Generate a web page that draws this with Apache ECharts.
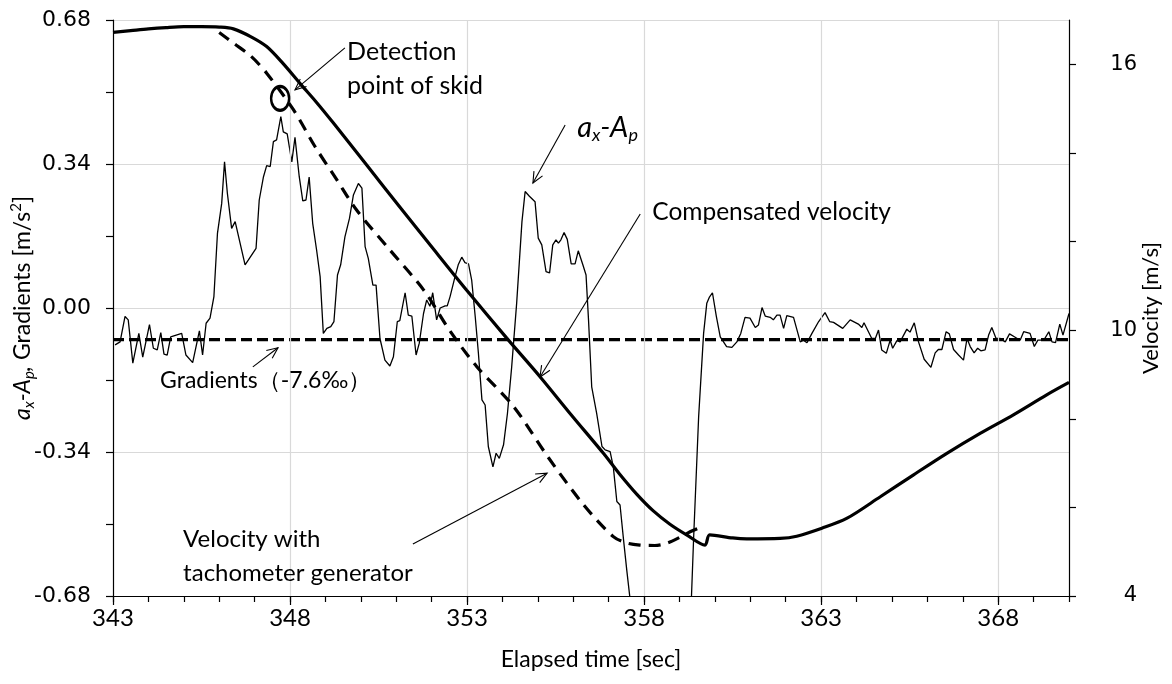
<!DOCTYPE html>
<html>
<head>
<meta charset="utf-8">
<script src="https://cdn.jsdelivr.net/npm/echarts@6/dist/echarts.min.js"></script>
<style>
  html, body { margin: 0; padding: 0; background: #fff; }
  #chart { width: 1172px; height: 684px; }
</style>
</head>
<body>
<div id="chart"></div>
<script>
// ---------- DATA ----------
const xTickLabels = [343, 348, 353, 358, 363, 368];
const xMinorTicks = [343,344,345,346,347,348,349,350,351,352,353,354,355,356,357,358,359,360,361,362,363,364,365,366,367,368,369,370];
const leftTickLabels = [-0.68, -0.34, 0, 0.34, 0.68];
const rightTickLabels = [4, 10, 16];
const rightTicks = [4, 6, 8, 10, 12, 14, 16];

// a_x - A_p (left axis, m/s^2)
const axApTime = [343.06,343.20,343.34,343.43,343.56,343.73,343.84,344.03,344.14,344.25,344.35,344.44,344.53,344.63,344.94,345.06,345.25,345.44,345.53,345.63,345.74,345.85,345.95,346.07,346.15,346.23,346.35,346.45,346.73,346.82,347.04,347.13,347.25,347.34,347.44,347.53,347.62,347.74,347.81,347.92,348.05,348.14,348.26,348.36,348.45,348.54,348.64,348.75,348.85,348.94,349.04,349.15,349.24,349.34,349.43,349.55,349.68,349.79,349.93,350.03,350.12,350.21,350.34,350.43,350.54,350.68,350.82,350.92,351.03,351.10,351.25,351.34,351.44,351.56,351.65,351.77,351.86,351.95,352.03,352.14,352.24,352.38,352.44,352.52,352.66,352.75,352.85,352.94,353.04,353.13,353.23,353.32,353.42,353.51,353.60,353.73,353.82,353.91,354.03,354.14,354.26,354.40,354.55,354.64,354.76,354.92,355.01,355.11,355.23,355.33,355.42,355.51,355.58,355.65,355.74,355.83,355.94,356.05,356.14,356.27,356.36,356.43,356.52,356.66,356.81,356.90,357.04,357.13,357.23,357.32,357.42,357.51,357.60,357.80,358.10,358.50,358.90,359.25,359.40,359.54,359.68,359.77,359.84,359.93,360.04,360.15,360.33,360.48,360.62,360.73,360.85,360.99,361.14,361.23,361.33,361.42,361.56,361.65,361.75,361.84,361.94,362.03,362.22,362.41,362.50,362.60,362.74,362.93,363.11,363.24,363.35,363.61,363.82,364.05,364.15,364.21,364.43,364.53,364.62,364.71,364.84,364.95,365.02,365.14,365.23,365.42,365.51,365.63,365.75,365.91,366.10,366.22,366.31,366.41,366.53,366.62,366.74,366.88,367.02,367.12,367.21,367.32,367.42,367.51,367.63,367.73,367.82,367.94,368.06,368.20,368.32,368.48,368.62,368.72,368.90,369.02,369.12,369.29,369.43,369.52,369.62,369.74,369.83,370.00];
const axApValue = [-0.087,-0.080,-0.020,-0.028,-0.130,-0.060,-0.116,-0.039,-0.095,-0.099,-0.058,-0.109,-0.111,-0.068,-0.060,-0.111,-0.129,-0.054,-0.111,-0.036,-0.024,0.027,0.176,0.247,0.345,0.271,0.188,0.204,0.102,0.113,0.141,0.255,0.310,0.336,0.334,0.393,0.397,0.452,0.416,0.411,0.345,0.403,0.310,0.253,0.255,0.309,0.200,0.137,0.074,-0.060,-0.048,-0.044,-0.032,0.078,0.102,0.168,0.212,0.267,0.294,0.283,0.145,0.117,0.054,0.054,-0.072,-0.123,-0.137,-0.115,-0.032,-0.030,0.036,-0.017,-0.019,-0.111,-0.083,-0.013,0.019,0.004,0.036,-0.028,0.000,0.005,0.005,0.027,0.074,0.102,0.120,0.107,0.104,0.066,-0.020,-0.107,-0.217,-0.229,-0.327,-0.375,-0.343,-0.355,-0.323,-0.249,-0.139,0.011,0.204,0.275,0.264,0.251,0.165,0.149,0.086,0.083,0.149,0.161,0.153,0.161,0.178,0.162,0.104,0.104,0.135,0.102,0.078,-0.028,-0.186,-0.249,-0.327,-0.335,-0.339,-0.375,-0.457,-0.465,-0.548,-0.619,-0.685,-0.85,-1.10,-1.25,-1.15,-0.88,-0.54,-0.257,-0.060,0.011,0.025,0.036,-0.020,-0.068,-0.091,-0.093,-0.080,-0.060,-0.022,-0.024,-0.046,-0.040,0.001,-0.019,-0.022,-0.028,-0.017,-0.017,-0.048,-0.018,-0.022,-0.080,-0.076,-0.082,-0.060,-0.032,-0.011,-0.032,-0.034,-0.048,-0.028,-0.038,-0.046,-0.035,-0.072,-0.072,-0.052,-0.099,-0.107,-0.076,-0.095,-0.077,-0.080,-0.050,-0.057,-0.035,-0.080,-0.121,-0.140,-0.106,-0.098,-0.098,-0.056,-0.061,-0.098,-0.111,-0.123,-0.072,-0.091,-0.106,-0.095,-0.101,-0.099,-0.064,-0.046,-0.072,-0.072,-0.080,-0.061,-0.069,-0.076,-0.056,-0.060,-0.091,-0.076,-0.076,-0.056,-0.080,-0.082,-0.038,-0.064,-0.013];

// Gradient (-7.6 permil) expressed in m/s^2
const gradientTime = [343, 370];
const gradientValue = [-0.0745, -0.0745];

// Compensated velocity (right axis, m/s)
const compTime = [343.0,343.5,344.0,344.5,345.0,345.5,346.0,346.4,346.9,347.34,347.8,348.28,348.75,349.22,350.17,351.1,352.05,352.99,354.12,355.06,355.95,356.85,357.3,357.79,358.26,358.73,359.2,359.72,359.85,360.5,360.9,361.84,362.31,363.02,363.72,364.67,365.6,366.55,367.49,368.43,369.37,370.0];
const compValue = [16.72,16.76,16.80,16.83,16.85,16.85,16.84,16.80,16.62,16.40,16.02,15.57,15.14,14.68,13.72,12.78,11.83,10.90,9.82,8.95,8.08,7.22,6.76,6.30,5.92,5.62,5.38,5.15,5.38,5.31,5.29,5.30,5.35,5.53,5.75,6.24,6.73,7.22,7.67,8.09,8.54,8.82];

// Velocity with tachometer generator (right axis, m/s)
const tachoTime = [346.0,346.4,346.9,347.34,348.1,348.7,349.3,349.88,350.82,351.77,352.52,353.27,354.31,355.3,356.3,357.13,357.5,357.88,358.3,358.64,359.0,359.3,359.5];
const tachoValue = [16.72,16.48,16.18,15.80,14.97,14.15,13.42,12.71,11.81,10.91,9.98,9.18,8.28,7.12,6.05,5.34,5.20,5.15,5.14,5.19,5.32,5.45,5.52];

// Detection point of skid (right axis)
const detectTime = [347.72];
const detectValue = [15.23];

// ---------- CHART ----------
const zip = (a, b) => a.map((v, i) => [v, b[i]]);
const chart = echarts.init(document.getElementById('chart'), null, { renderer: 'canvas' });
const TXT = 'Lato, "Noto Sans", sans-serif';
const NUM = '"DejaVu Sans", sans-serif';
const GRID = '#d9d9d9';

const option = {
  animation: false,
  backgroundColor: '#fff',
  grid: { left: 113, right: 103, top: 20, bottom: 88, containLabel: false, outerBoundsMode: 'none' },
  xAxis: [{
    type: 'value', min: 343, max: 370, position: 'bottom',
    axisLine: { show: true, onZero: false, lineStyle: { color: '#000', width: 1.2 } },
    axisTick: { show: true, inside: false, length: 9, customValues: xTickLabels, lineStyle: { color: '#000', width: 1.2 } },
    axisLabel: { customValues: xTickLabels, margin: 10, fontFamily: TXT, fontSize: 24, color: '#000' },
    splitLine: { show: false },
    name: 'Elapsed time [sec]', nameLocation: 'middle', nameGap: 52, nameMoveOverlap: false,
    nameTextStyle: { fontFamily: TXT, fontSize: 23, color: '#000' }
  }, {
    type: 'value', min: 343, max: 370, position: 'bottom',
    axisLine: { show: false, onZero: false },
    axisTick: { show: true, length: 6, customValues: xMinorTicks, lineStyle: { color: '#000', width: 1.2 } },
    axisLabel: { show: false },
    splitLine: { show: false }
  }],
  yAxis: [{
    type: 'value', min: -0.68, max: 0.68, interval: 0.34,
    position: 'left',
    axisLine: { show: true, onZero: false, lineStyle: { color: '#000', width: 1.2 } },
    axisTick: { show: true, length: 7, lineStyle: { color: '#000', width: 1.2 } },
    minorTick: { show: true, splitNumber: 2, length: 7, lineStyle: { color: '#000', width: 1.2 } },
    axisLabel: { margin: 22, fontFamily: NUM, fontSize: 22, color: '#000', formatter: v => v.toFixed(2) },
    splitLine: { show: true, lineStyle: { color: GRID, width: 1.2 } },
    name: '{i|a}{s|x}{i|-A}{s|p}{i|,}{n| Gradients [m/s}{p|2}{n|]}',
    nameLocation: 'middle', nameGap: 76, nameRotate: 90, nameMoveOverlap: false,
    nameTextStyle: {
      fontFamily: TXT, fontSize: 23, color: '#000',
      rich: {
        i: { fontFamily: TXT, fontSize: 23, fontStyle: 'italic', color: '#000', lineHeight: 28 },
        s: { fontFamily: TXT, fontSize: 15, fontStyle: 'italic', color: '#000', lineHeight: 15, verticalAlign: 'bottom' },
        n: { fontFamily: TXT, fontSize: 23, color: '#000', lineHeight: 28 },
        p: { fontFamily: TXT, fontSize: 15, color: '#000', lineHeight: 15, verticalAlign: 'top' }
      }
    }
  }, {
    type: 'value', min: 4, max: 17,
    position: 'right',
    axisLine: { show: true, onZero: false, lineStyle: { color: '#000', width: 1.2 } },
    axisTick: { show: true, length: 7, customValues: rightTicks, lineStyle: { color: '#000', width: 1.2 } },
    axisLabel: { customValues: rightTickLabels, align: 'right', margin: 68, fontFamily: NUM, fontSize: 21, color: '#000' },
    splitLine: { show: false },
    name: 'Velocity [m/s]', nameLocation: 'middle', nameGap: 71, nameRotate: 90, nameMoveOverlap: false,
    nameTextStyle: { fontFamily: TXT, fontSize: 22, color: '#000' }
  }],
  series: [{
    name: 'Vertical grid', type: 'line', xAxisIndex: 0, yAxisIndex: 0, data: [],
    markLine: {
      silent: true, symbol: 'none', label: { show: false },
      lineStyle: { color: GRID, width: 1.2, type: 'solid' },
      data: xTickLabels.slice(1).map(v => ({ xAxis: v }))
    }, z: 1
  }, {
    name: 'ax-Ap', type: 'line', xAxisIndex: 0, yAxisIndex: 0,
    data: zip(axApTime, axApValue), showSymbol: false, symbol: 'none',
    lineStyle: { color: '#000', width: 1.3 }, clip: true, z: 3
  }, {
    name: 'Gradients', type: 'line', xAxisIndex: 0, yAxisIndex: 0,
    data: zip(gradientTime, gradientValue), showSymbol: false, symbol: 'none',
    lineStyle: { color: '#000', width: 3.3, type: [11, 5] }, z: 4
  }, {
    name: 'Compensated velocity', type: 'line', xAxisIndex: 0, yAxisIndex: 1,
    data: zip(compTime, compValue), showSymbol: false, symbol: 'none', smooth: 0.3,
    lineStyle: { color: '#000', width: 3.2 }, z: 5
  }, {
    name: 'Velocity with tachometer generator', type: 'line', xAxisIndex: 0, yAxisIndex: 1,
    data: zip(tachoTime, tachoValue), showSymbol: false, symbol: 'none', smooth: 0.3,
    lineStyle: { color: '#000', width: 3.2, type: [12, 8] }, z: 5
  }, {
    name: 'Detection point', type: 'scatter', xAxisIndex: 0, yAxisIndex: 1,
    data: zip(detectTime, detectValue), symbol: 'circle', symbolSize: [18, 24],
    itemStyle: { color: 'rgba(255,255,255,0)', borderColor: '#000', borderWidth: 2.8, opacity: 1 }, z: 6
  }]
};
chart.setOption(option);

// ---------- ANNOTATIONS (placed in data coordinates of the left axis) ----------
const arrows = [
  { from: [349.55, 0.614], to: [348.14, 0.515] },
  { from: [355.77, 0.432], to: [354.86, 0.295] },
  { from: [357.89, 0.222], to: [355.06, -0.163] },
  { from: [346.95, -0.139], to: [347.66, -0.094] },
  { from: [351.47, -0.557], to: [355.26, -0.390] }
];
const labels = [
  { at: [349.61, 0.604], text: 'Detection\npoint of skid', size: 25 },
  { at: [358.23, 0.227], text: 'Compensated velocity', size: 24.5 },
  { at: [344.33, -0.172], text: 'Gradients（-7.6‰）', size: 23 },
  { at: [344.98, -0.545], text: 'Velocity with\ntachometer generator', size: 24 }
];
const px = p => chart.convertToPixel({ xAxisIndex: 0, yAxisIndex: 0 }, p);
const g = [];
const LH = 34;
arrows.forEach(a => {
  const p1 = px(a.from), p2 = px(a.to);
  const ang = Math.atan2(p2[1] - p1[1], p2[0] - p1[0]);
  const L = 12, w = 0.42;
  const h1 = [p2[0] - L * Math.cos(ang - w), p2[1] - L * Math.sin(ang - w)];
  const h2 = [p2[0] - L * Math.cos(ang + w), p2[1] - L * Math.sin(ang + w)];
  g.push({ type: 'line', shape: { x1: p1[0], y1: p1[1], x2: p2[0], y2: p2[1] }, style: { stroke: '#000', lineWidth: 1.1 }, z: 10 });
  g.push({ type: 'polyline', shape: { points: [h1, p2, h2] }, style: { stroke: '#000', lineWidth: 1.1, fill: null }, z: 10 });
});
labels.forEach(l => {
  const p = px(l.at);
  g.push({
    type: 'text', x: p[0], y: p[1] - LH / 2, z: 10,
    style: { text: l.text, fontFamily: TXT, fontSize: l.size, lineHeight: LH, fill: '#000', align: 'left', verticalAlign: 'top' }
  });
});
const pa = px([356.11, 0.425]);
g.push({
  type: 'text', x: pa[0], y: pa[1], z: 10,
  style: {
    text: '{i|a}{s|x}{i|-A}{s|p}', align: 'left', verticalAlign: 'middle',
    rich: {
      i: { fontFamily: TXT, fontSize: 29, fontStyle: 'italic', fill: '#000', lineHeight: 32 },
      s: { fontFamily: TXT, fontSize: 18, fontStyle: 'italic', fill: '#000', lineHeight: 18, verticalAlign: 'bottom' }
    }
  }
});
chart.setOption({ graphic: g });
</script>
</body>
</html>
